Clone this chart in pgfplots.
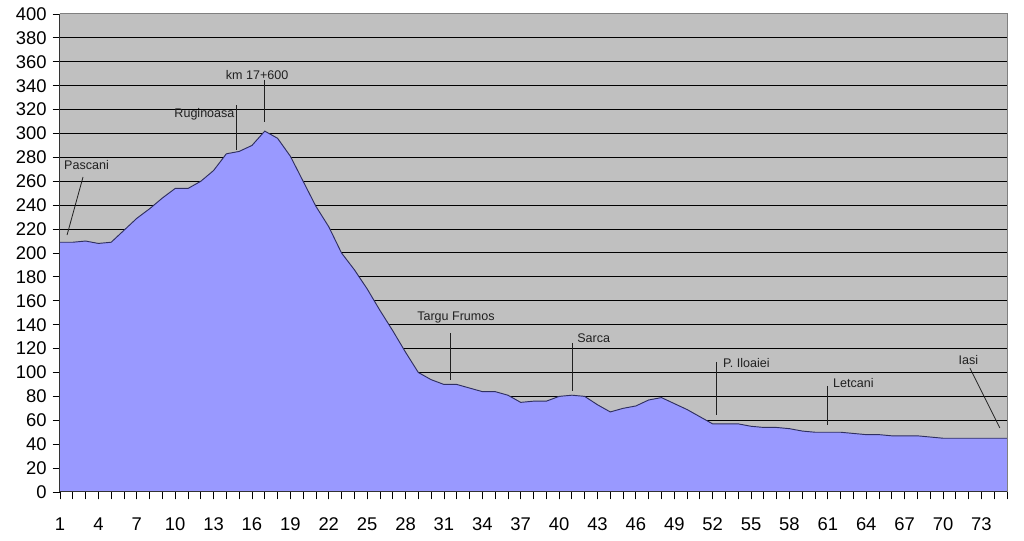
\documentclass[border=0pt]{standalone}
\usepackage{pgfplots}
\pgfplotsset{compat=1.18}
\usepackage{pgfplotstable}
\usepackage{fontspec}
\setmainfont{Liberation Sans}
\definecolor{areafill}{HTML}{9999FF}
\definecolor{bggray}{HTML}{C0C0C0}
\definecolor{edgeline}{HTML}{2F2F60}
\definecolor{annot}{HTML}{202020}
\pgfplotstableread{
x y
1 209
2 209
3 210
4 208
5 209
6 219
7 229
8 237
9 246
10 254
11 254
12 260
13 269
14 283
15 285
16 290
17 302
18 296
19 281
20 260
21 239
22 222
23 200
24 186
25 170
26 152
27 135
28 117
29 100
30 94
31 90
32 90
33 87
34 84
35 84
36 81
37 75
38 76
39 76
40 80
41 81
42 80
43 73
44 67
45 70
46 72
47 77
48 79
49 74
50 69
51 63
52 57
53 57
54 57
55 55
56 54
57 54
58 53
59 51
60 50
61 50
62 50
63 49
64 48
65 48
66 47
67 47
68 47
69 46
70 45
71 45
72 45
73 45
74 45
75 45
}\elev
\begin{document}
\begin{tikzpicture}
\begin{axis}[
  scale only axis,
  width=710.25pt, height=358.5pt,
  xmin=1, xmax=75, ymin=0, ymax=400,
  xtick={1,4,...,73},
  minor xtick={1,2,...,75},
  ytick={0,20,...,400},
  ymajorgrids,
  major grid style={black, line width=0.75pt},
  axis line style={draw=none},
  axis background/.style={fill=bggray},
  tick align=outside,
  major tick length=5.5pt,
  minor tick length=5.5pt,
  tick style={black, line width=0.6pt},
  xtick pos=bottom, ytick pos=left,
  /pgf/number format/assume math mode=true,
  ticklabel style={font=\fontsize{13.8}{14}\selectfont},
  yticklabel style={xshift=-1pt},
  xticklabel style={yshift=-10pt},
  clip=false,
]
\addplot[fill=areafill, draw=none] table[x=x,y=y] {\elev} \closedcycle;
\addplot[edgeline, line width=0.7pt, mark=none] table[x=x,y=y] {\elev};
% frame
\draw[gray, line width=0.75pt] (axis cs:1,400) -- (axis cs:75,400) -- (axis cs:75,0);
\draw[black!80, line width=0.75pt] (axis cs:1,400) -- (axis cs:1,0) -- (axis cs:75,0);
% annotations
\begin{scope}[every node/.style={font=\fontsize{9.4}{10}\selectfont, text=annot, inner sep=0pt}]
\node[anchor=west] at (axis cs:1.31,273.6) {Pascani};
\draw[annot, line width=0.6pt] (axis cs:2.80,263.6) -- (axis cs:1.55,215);
\node[anchor=east] at (axis cs:14.65,316) {Ruginoasa};
\draw[annot, line width=0.6pt] (axis cs:14.8,323.8) -- (axis cs:14.8,286);
\node[anchor=center] at (axis cs:16.4,349) {km 17+600};
\draw[annot, line width=0.6pt] (axis cs:17.0,344.8) -- (axis cs:17.0,309.6);
\node[anchor=west] at (axis cs:28.9,146.4) {Targu Frumos};
\draw[annot, line width=0.6pt] (axis cs:31.5,133) -- (axis cs:31.5,93.7);
\node[anchor=west] at (axis cs:41.4,129) {Sarca};
\draw[annot, line width=0.6pt] (axis cs:41.05,124.7) -- (axis cs:41.05,84.5);
\node[anchor=west] at (axis cs:52.8,108) {P. Iloaiei};
\draw[annot, line width=0.6pt] (axis cs:52.3,108.8) -- (axis cs:52.3,64.4);
\node[anchor=west] at (axis cs:61.4,91.2) {Letcani};
\draw[annot, line width=0.6pt] (axis cs:61.0,88.7) -- (axis cs:61.0,56);
\node[anchor=west] at (axis cs:71.2,110.5) {Iasi};
\draw[annot, line width=0.6pt] (axis cs:72.1,103.8) -- (axis cs:74.44,53.6);
\end{scope}
\end{axis}
\pgfresetboundingbox
\path[use as bounding box] (current axis.south west) ++(-45pt,-36.75pt) rectangle ([shift={(12.75pt,10.5pt)}]current axis.north east);
\end{tikzpicture}
\end{document}
